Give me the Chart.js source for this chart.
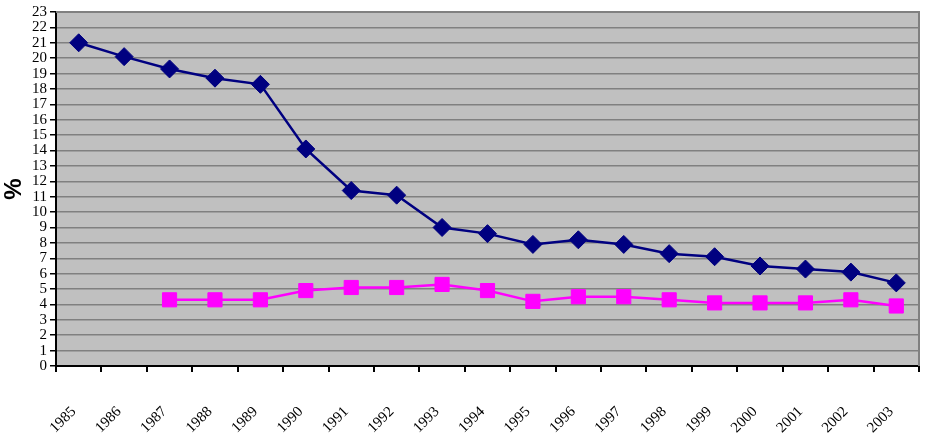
<!DOCTYPE html>
<html>
<head>
<meta charset="utf-8">
<script src="https://cdn.jsdelivr.net/npm/chart.js@4/dist/chart.umd.min.js"></script>
<style>
html,body{margin:0;padding:0;background:#fff;}
#wrap{width:930px;height:439px;position:relative;}
</style>
</head>
<body>
<div id="wrap"><canvas id="c" width="930" height="439"></canvas></div>
<script>
const years = ['1985','1986','1987','1988','1989','1990','1991','1992','1993','1994','1995','1996','1997','1998','1999','2000','2001','2002','2003'];
const seriesBlue = [21.0,20.1,19.3,18.7,18.3,14.1,11.4,11.1,9.0,8.6,7.9,8.2,7.9,7.3,7.1,6.5,6.3,6.1,5.4];
const seriesPink = [null,null,4.3,4.3,4.3,4.9,5.1,5.1,5.3,4.9,4.2,4.5,4.5,4.3,4.1,4.1,4.1,4.3,3.9];
const yMin = 0, yMax = 23, yStep = 1;

const plotBg = {
  id: 'plotBg',
  beforeDraw(chart) {
    const {ctx, chartArea: a} = chart;
    ctx.save();
    ctx.fillStyle = '#C0C0C0';
    ctx.fillRect(a.left, a.top, a.right - a.left, a.bottom - a.top);
    ctx.restore();
  },
  beforeDatasetsDraw(chart) {
    const {ctx, chartArea: a} = chart;
    ctx.save();
    ctx.strokeStyle = '#808080';
    ctx.lineWidth = 2;
    ctx.beginPath();
    ctx.moveTo(a.left, a.top); ctx.lineTo(a.right, a.top); ctx.lineTo(a.right, a.bottom);
    ctx.stroke();
    ctx.restore();
  }
};

new Chart(document.getElementById('c'), {
  type: 'line',
  data: {
    labels: years,
    datasets: [
      {
        label: 'A',
        data: seriesBlue,
        borderColor: '#000080',
        backgroundColor: '#000080',
        borderWidth: 2.5,
        pointStyle: 'rectRot',
        pointRadius: 9,
        pointHoverRadius: 9,
        pointBorderWidth: 1,
        tension: 0
      },
      {
        label: 'B',
        data: seriesPink,
        borderColor: '#FF00FF',
        backgroundColor: '#FF00FF',
        borderWidth: 2.5,
        pointStyle: 'rect',
        pointRadius: 10,
        pointHoverRadius: 10,
        pointBorderWidth: 1,
        tension: 0,
        spanGaps: false
      }
    ]
  },
  plugins: [plotBg],
  options: {
    responsive: false,
    animation: false,
    events: [],
    layout: { padding: { left: 0, right: 5, top: 10, bottom: 0 } },
    plugins: { legend: { display: false }, title: { display: false }, tooltip: { enabled: false } },
    scales: {
      x: {
        type: 'category',
        offset: true,
        grid: { display: true, drawOnChartArea: false, drawTicks: true, tickLength: 6, tickColor: '#000', offset: true, lineWidth: 2 },
        border: { display: true, color: '#000', width: 2 },
        ticks: {
          autoSkip: false, maxRotation: 45, minRotation: 45, padding: 31, labelOffset: -5,
          color: '#000', font: { family: 'Liberation Serif', size: 15 }
        },
        afterFit(scale) { scale.height = 439 - 366; scale.paddingLeft = 0; scale.paddingRight = 0; }
      },
      y: {
        min: yMin, max: yMax,
        ticks: { stepSize: yStep, color: '#000', padding: 3, font: { family: 'Liberation Serif', size: 15 }, autoSkip: false },
        grid: { color: '#808080', lineWidth: 1.5, tickLength: 6, tickColor: '#000', drawTicks: true },
        border: { display: true, color: '#000', width: 2 },
        title: { display: true, text: '%', color: '#000', font: { family: 'Liberation Sans', size: 24, weight: 'bold' }, padding: 0 },
        afterFit(scale) { scale.width = 56; }
      }
    }
  }
});
</script>
</body>
</html>
